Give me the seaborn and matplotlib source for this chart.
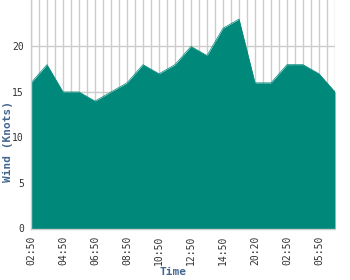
import matplotlib
matplotlib.use("Agg")
import matplotlib.pyplot as plt
import seaborn as sns
import pandas as pd
import numpy as np
from matplotlib.ticker import FixedLocator

# ---- data ----
times = ["02:50", "03:20", "03:50", "04:20", "04:50", "05:20", "05:50", "06:20",
         "06:50", "07:20", "07:50", "08:20", "08:50", "09:20", "09:50", "10:20",
         "10:50", "11:20", "11:50", "12:20", "12:50", "13:20", "13:50", "14:20",
         "14:50", "16:20", "17:50", "18:50", "20:20", "21:50", "23:20", "00:50",
         "02:50", "03:50", "04:20", "05:20", "05:50", "06:20", "06:50"]
wind = [16, 17, 18, 16.5, 15, 15, 15, 14.5,
        14, 14.5, 15, 15.5, 16, 17, 18, 17.5,
        17, 17.5, 18, 19, 20, 19.5, 19, 20.5,
        22, 22.5, 23, 19.5, 16, 16, 16, 17,
        18, 18, 18, 17.5, 17, 16, 15]
y_ticks = [0, 5, 10, 15, 20]
x_label = "Time"
y_label = "Wind (Knots)"

fill_color = "#00897B"
label_color = "#44678F"
grid_color = "#CCCCCC"

df = pd.DataFrame({"idx": np.arange(len(times)), "time": times, "wind": wind})

sns.set_style("white")
plt.rcParams["font.family"] = ["DejaVu Sans Mono", "DejaVu Sans"]

fig = plt.figure(figsize=(3.5, 2.8), dpi=100)
ax = fig.add_axes([31 / 350, (280 - 228.5) / 280, 304 / 350, 228.5 / 280])

sns.lineplot(data=df, x="idx", y="wind", ax=ax, color=fill_color, linewidth=0.5)
ax.fill_between(df["idx"], 0, df["wind"], color=fill_color, linewidth=0, zorder=2)

ax.set_xlim(0, len(times) - 1)
ax.set_ylim(0, 25.1)

# grid: vertical at every point, horizontal at y ticks
ax.xaxis.set_minor_locator(FixedLocator(df["idx"].tolist()))
major_idx = df["idx"].tolist()[::4]
ax.set_xticks(major_idx)
ax.set_xticklabels([times[i] for i in major_idx], rotation=90)
ax.set_yticks(y_ticks)
ax.grid(True, which="both", axis="x", color=grid_color, linewidth=1)
ax.grid(True, which="major", axis="y", color=grid_color, linewidth=1)
ax.set_axisbelow(True)

for s in ["top", "right"]:
    ax.spines[s].set_visible(False)
for s in ["left", "bottom"]:
    ax.spines[s].set_color(grid_color)
    ax.spines[s].set_linewidth(1)

ax.tick_params(axis="both", which="major", length=3, width=1, color=grid_color,
               labelsize=7, labelcolor="#333333", pad=2)
ax.tick_params(axis="x", which="minor", length=0)

ax.set_xlabel(x_label, color=label_color, fontweight="bold", fontsize=8)
ax.set_ylabel(y_label, color=label_color, fontweight="bold", fontsize=8)
ax.xaxis.label.set_va("center")
ax.yaxis.label.set_va("center")
ax.xaxis.set_label_coords((173 - 31) / 304, -(272 - 228.5) / 228.5)
ax.yaxis.set_label_coords((8 - 31) / 304, (228.5 - 141.5) / 228.5)

fig.savefig("out.png", dpi=100)
